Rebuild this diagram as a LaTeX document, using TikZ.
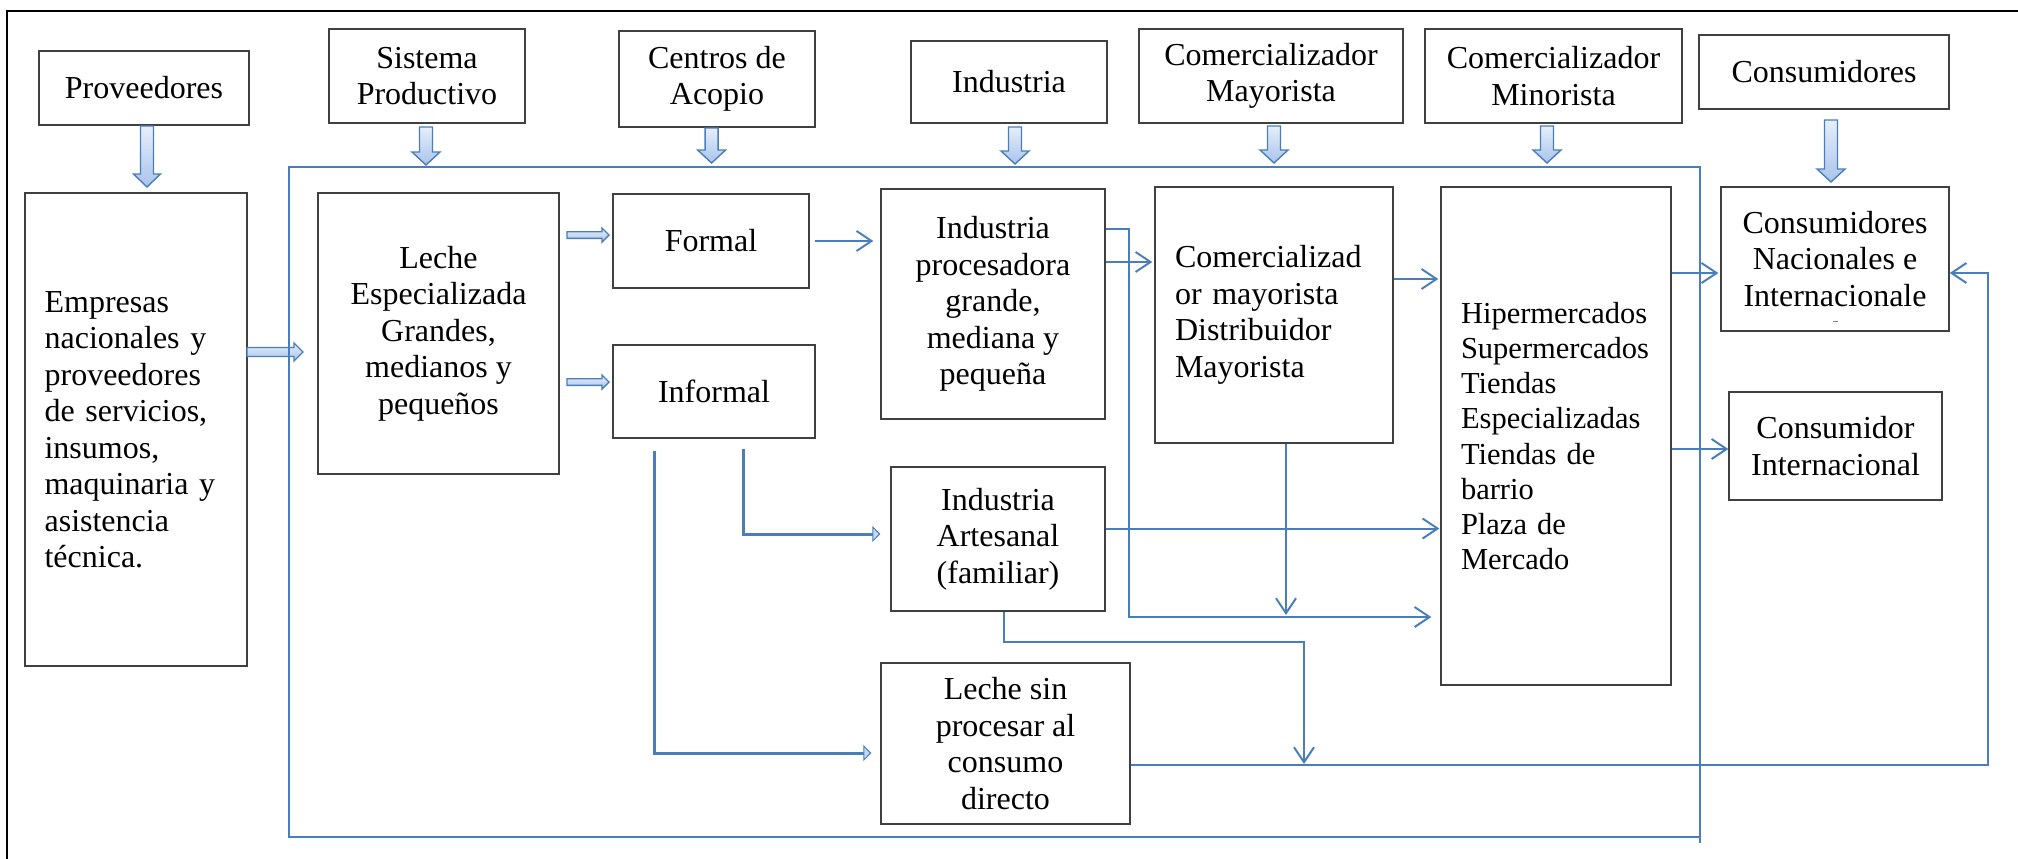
\documentclass[tikz,border=0pt]{standalone}
\usepackage{fontspec}
\setmainfont{Liberation Serif}
\usetikzlibrary{arrows.meta}
\definecolor{lblue}{HTML}{4A7EBB}
\definecolor{afill}{HTML}{C6D9F1}
\definecolor{afilltop}{HTML}{E6EEFA}
\definecolor{afillbot}{HTML}{A9C4EB}
\definecolor{bxline}{HTML}{404040}
\newcommand\txt{\fontsize{32}{36.5}\selectfont}
\newcommand\txts{\fontsize{30.5}{35.2}\selectfont}
% x, y1, y2, half shaft, half head, head length
\newcommand\myvfat[6]{\draw[fatarrow] (#1-#4,#2) -- (#1+#4,#2) -- (#1+#4,#3-#6) -- (#1+#5,#3-#6) -- (#1,#3) -- (#1-#5,#3-#6) -- (#1-#4,#3-#6) -- cycle;}
% y, x1, x2, half shaft, half head, head length
\newcommand\myhfat[6]{\draw[fatarrow] (#2,#1-#4) -- (#3-#6,#1-#4) -- (#3-#6,#1-#5) -- (#3,#1) -- (#3-#6,#1+#5) -- (#3-#6,#1+#4) -- (#2,#1+#4) -- cycle;}
\begin{document}
\begin{tikzpicture}[x=1pt, y=-1pt,
  bx/.style={draw=bxline, line width=1.3pt, inner sep=0pt, align=center, font=\txt},
  conn/.style={draw=lblue, line width=2pt, -{Straight Barb[length=15pt,width=20pt]}},
  fatline/.style={draw=lblue, line width=3pt, -{Triangle[length=8pt,width=16pt,line width=1pt,fill=afill]}},
  fatarrow/.style={draw=lblue, line width=1.4pt, line join=miter, top color=afilltop, bottom color=afillbot}]
\useasboundingbox (0,0) rectangle (2018,859);
% outer border
\draw[line width=2.4pt, line join=miter] (7,859) -- (7,11) -- (2018,11);

% top row
\node[bx, minimum width=210pt, minimum height=74pt] (prov) at (144,88) {Proveedores};
\node[bx, minimum width=196pt, minimum height=94pt] (sis) at (427,76) {Sistema\\Productivo};
\node[bx, minimum width=196pt, minimum height=96pt] (cen) at (717,79) {Centros de\\Acopio};
\node[bx, minimum width=196pt, minimum height=82pt] (ind) at (1009,82) {Industria};
\node[bx, minimum width=264pt, minimum height=94pt] (cmay) at (1271,76) {Comercializador\\Mayorista};
\node[bx, minimum width=257pt, minimum height=94pt] (cmin) at (1553.5,76) {Comercializador\\Minorista};
\node[bx, minimum width=250pt, minimum height=74pt] (cons) at (1824,72) {Consumidores};

% inner boxes
\node[bx, align=left, text width=182.8pt, inner xsep=19.6pt, minimum height=473pt] (emp) at (136,429.5)
  {Empresas\\nacionales y\\proveedores\\de servicios,\\insumos,\\maquinaria y\\asistencia\\técnica.};
\node[bx, minimum width=241pt, minimum height=281pt] (lesp) at (438.5,333.5) {Leche\\Especializada\\Grandes,\\medianos y\\pequeños};
\node[bx, minimum width=196pt, minimum height=94pt] (formal) at (711,241) {Formal};
\node[bx, minimum width=202pt, minimum height=93pt] (informal) at (714,391.5) {Informal};
\node[bx, minimum width=224pt, minimum height=230pt] (indp) at (993,304) {Industria\\procesadora\\grande,\\mediana y\\pequeña};
\node[bx, align=left, text width=198pt, inner xsep=20pt, minimum height=256pt] (comm) at (1274,315)
  {Comercializad\\or mayorista\\Distribuidor\\Mayorista};
\node[bx, align=left, font=\txts, text width=190pt, inner xsep=20pt, minimum height=498pt] (hip) at (1556,436)
  {Hipermercados\\Supermercados\\Tiendas\\Especializadas\\Tiendas de\\barrio\\Plaza de\\Mercado};
\node[bx, minimum width=228pt, minimum height=144pt] (consn) at (1835,259) {Consumidores\\Nacionales e\\Internacionale};
\draw[gray, line width=0.8pt] (1833,321) -- (1838,321);
\node[bx, minimum width=213pt, minimum height=108pt] (consi) at (1835.5,446) {Consumidor\\Internacional};
\node[bx, minimum width=214pt, minimum height=144pt] (art) at (998,539) {Industria\\Artesanal\\(familiar)};
\node[bx, minimum width=249pt, minimum height=161pt] (lsp) at (1005.5,743.5) {Leche sin\\procesar al\\consumo\\directo};

% fat arrows
\myvfat{147}{126}{187}{6.5}{13.5}{13}
\myvfat{426}{127}{165}{6.5}{14}{13}
\myvfat{711.6}{128}{163}{6.5}{14}{13}
\myvfat{1015}{127}{164}{6.5}{14}{13}
\myvfat{1274}{126}{163}{6.5}{14}{13}
\myvfat{1547}{126}{163}{6.5}{14}{13}
\myvfat{1831}{120}{182}{6.5}{14}{13}
\myhfat{352}{247}{303}{4.5}{9}{9}
\myhfat{235}{567}{609}{3.3}{7}{7}
\myhfat{382}{567}{609}{3.3}{7}{7}

% blue frame
\draw[lblue, line width=2pt] (289,167) rectangle (1700,837);
\draw[lblue, line width=2pt] (1700,837) -- (1700,843);

% levels
\coordinate (yA) at (0,229);
\coordinate (yB) at (0,262);
\coordinate (yC) at (0,279);
\coordinate (yD) at (0,273);
\coordinate (yE) at (0,449);
\coordinate (yF) at (0,528.5);
\coordinate (yG) at (0,617);
\coordinate (yH) at (0,642);
\coordinate (yI) at (0,765);
\coordinate (yJ) at (0,753);
\coordinate (yK) at (0,534);
\coordinate (xA) at (1129,0);
\coordinate (xB) at (1286,0);
\coordinate (xC) at (1003.5,0);
\coordinate (xD) at (1304,0);
\coordinate (xE) at (1988,0);
\coordinate (xF) at (743,0);
\coordinate (xG) at (654.5,0);

% connectors
\draw[conn, shorten <=5pt, shorten >=7pt] (formal.east) -- (formal.east -| indp.west);
\draw[conn, shorten >=2pt] (indp.east |- yB) -- (comm.west |- yB);
\draw[conn, shorten >=9pt] (indp.east |- yA) -- (xA |- yA) -- (xA |- yG) -- (hip.west |- yG);
\draw[conn, shorten >=2pt] (xB |- comm.south) -- (xB |- yG);
\draw[conn, shorten >=2pt] (comm.east |- yC) -- (hip.west |- yC);
\draw[conn, shorten >=1pt] (art.east |- yF) -- (hip.west |- yF);
\draw[conn, shorten >=2pt] (hip.east |- yD) -- (consn.west |- yD);
\draw[conn] (hip.east |- yE) -- (consi.west |- yE);
\draw[conn, shorten >=1pt] (xC |- art.south) -- (xC |- yH) -- (xD |- yH) -- (xD |- yI);
\draw[conn] (lsp.east |- yI) -- (xE |- yI) -- (xE |- yD) -- (consn.east |- yD);
\draw[fatline, shorten <=10pt, shorten >=10pt] (xF |- informal.south) -- (xF |- yK) -- (art.west |- yK);
\draw[fatline, shorten <=12pt, shorten >=9pt] (xG |- informal.south) -- (xG |- yJ) -- (lsp.west |- yJ);
\end{tikzpicture}
\end{document}
